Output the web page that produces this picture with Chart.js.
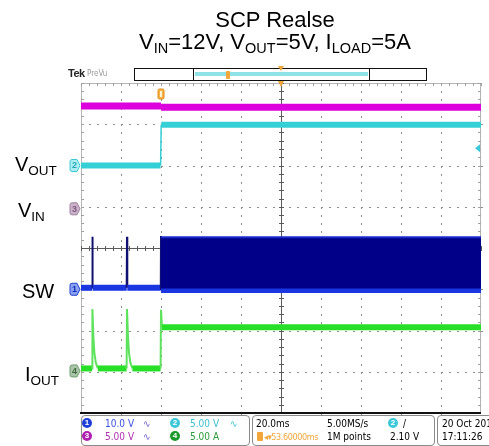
<!DOCTYPE html>
<html><head><meta charset="utf-8">
<script src="https://cdn.jsdelivr.net/npm/chart.js@4/dist/chart.umd.min.js"></script>
<style>
html,body{margin:0;padding:0;background:#fff;}
#wrap{position:relative;width:489px;height:446px;overflow:hidden;font-family:"Liberation Sans",Arial,sans-serif;color:#000;}
#c{position:absolute;left:0;top:0;}
.abs{position:absolute;white-space:nowrap;}
.title{font-size:22px;line-height:22px;left:0;width:550px;text-align:center;}
.title .s{font-size:14.5px;position:relative;top:4px;}
.lbl{font-size:20px;line-height:20px;}
.lbl .s{font-size:13.5px;position:relative;top:4px;}
.st{font-family:"Liberation Sans Narrow","DejaVu Sans Condensed",sans-serif;font-size:10px;line-height:10px;}
.box{position:absolute;box-sizing:border-box;border:1px solid #8a8a8a;border-radius:4px;top:415px;height:31px;}
.dot{position:absolute;width:10px;height:10px;border-radius:50%;color:#fff;font-family:"Liberation Sans",Arial,sans-serif;font-size:8px;line-height:10px;text-align:center;font-weight:bold;}
</style></head>
<body>
<div id="wrap">
<canvas id="c" width="489" height="446"></canvas>

<div class="abs title" style="top:9px;">SCP Realse</div>
<div class="abs title" style="top:31px;">V<span class="s">IN</span>=12V, V<span class="s">OUT</span>=5V, I<span class="s">LOAD</span>=5A</div>

<div class="abs lbl" style="left:15px;top:154px;">V<span class="s">OUT</span></div>
<div class="abs lbl" style="left:18px;top:200px;">V<span class="s">IN</span></div>
<div class="abs lbl" style="left:22px;top:281px;">SW</div>
<div class="abs lbl" style="left:25px;top:364px;">I<span class="s">OUT</span></div>

<!-- header -->
<div class="abs" style="left:68px;top:68px;font-size:11px;line-height:11px;font-weight:bold;color:#222;letter-spacing:-0.5px;">Tek</div>
<div class="abs st" style="left:87px;top:69px;font-size:8px;color:#999;">PreVu</div>
<div class="abs" style="left:134px;top:68px;width:293px;height:13px;box-sizing:border-box;border:1px solid #111;"></div>
<div class="abs" style="left:193px;top:68px;width:177px;height:13px;box-sizing:border-box;border:1px solid #111;"></div>
<div class="abs" style="left:195px;top:72px;width:173px;height:4px;background:#8fe3e6;"></div>
<div class="abs" style="left:226px;top:71px;width:4px;height:8px;background:#f2a63a;border-radius:1px;"></div>
<div class="abs" style="left:278px;top:66px;width:0;height:0;border-left:3px solid transparent;border-right:3px solid transparent;border-top:5px solid #f2a63a;"></div>

<!-- status bar -->
<div class="box" style="left:81px;width:169px;"></div>
<div class="box" style="left:252px;width:183px;"></div>
<div class="box" style="left:437px;width:70px;"></div>

<div class="dot" style="left:82px;top:418px;background:#1f3fd8;">1</div>
<div class="abs st" style="left:105px;top:419px;color:#3a4fe0;">10.0 V</div>
<div class="abs st" style="left:143px;top:419px;color:#6a5ad0;">∿</div>
<div class="dot" style="left:170px;top:418px;background:#3cc8d8;">2</div>
<div class="abs st" style="left:190px;top:419px;color:#3cc0d0;">5.00 V</div>
<div class="abs st" style="left:230px;top:419px;color:#3cc0d0;">∿</div>

<div class="dot" style="left:82px;top:431px;background:#b020b0;">3</div>
<div class="abs st" style="left:105px;top:432px;color:#b030b0;">5.00 V</div>
<div class="abs st" style="left:143px;top:432px;color:#6a5ad0;">∿</div>
<div class="dot" style="left:170px;top:431px;background:#1a9a2a;">4</div>
<div class="abs st" style="left:190px;top:432px;color:#2a9a3a;">5.00 A</div>

<div class="abs st" style="left:256px;top:419px;">20.0ms</div>
<div class="abs st" style="left:327px;top:419px;">5.00MS/s</div>
<div class="dot" style="left:388px;top:418px;background:#3cc8d8;">2</div>
<div class="abs st" style="left:403px;top:419px;">/</div>
<div class="abs" style="left:257px;top:432px;width:6px;height:9px;background:#f2a63a;border-radius:1px;"></div>
<div class="abs st" style="left:264px;top:432px;color:#f2a63a;font-size:9px;letter-spacing:-0.4px;">◂▾53.60000ms</div>
<div class="abs st" style="left:327px;top:432px;">1M points</div>
<div class="abs st" style="left:390px;top:432px;">2.10 V</div>

<div class="abs st" style="left:442px;top:419px;">20 Oct 2010</div>
<div class="abs st" style="left:442px;top:432px;">17:11:26</div>
</div>

<script>
// ---- data (time in ms relative to trigger) ----
const vinTimeMs  = [-100, -60, -60, 100];
const vinVolts   = [12.45, 12.45, 12.3, 12.3];

const voutTimeMs = [-100, -60.2, -59.9, 100];
const voutVolts  = [0, 0, 4.95, 4.95];

const swTimeMs   = [-100, -94.45, -94.3, -94.15, -77.15, -77.0, -76.85, -60.1, -60, -60, 100];
const swVolts    = [0.35, 0.35, 12.7, 0.35, 0.35, 12.7, 0.35, 0.35, 12.9, -0.2, -0.2];

const swBurstTimeMs = [-60, 100];
const swBurstHigh   = [12.6, 12.6];
const swBurstLow    = [0.2, 0.2];

const ioutTimeMs = [-100, -94.5, -94.3, -93.8, -93.3, -92.6, -91.6, -77.2, -77.0, -76.5, -76.0, -75.3, -74.3, -60.2, -60.0, -59.5, 100];
const ioutAmps   = [0.3, 0.3, 7.5, 4.2, 2.2, 1.0, 0.3, 0.3, 7.5, 4.2, 2.2, 1.0, 0.3, 0.3, 7.4, 5.3, 5.3];

// scope channel settings: units per division and ground position (div)
const chSW   = {perDiv: 10, zeroDiv: -1.0};
const chVOUT = {perDiv: 5,  zeroDiv: 2.0};
const chVIN  = {perDiv: 5,  zeroDiv: 0.95};
const chIOUT = {perDiv: 5,  zeroDiv: -2.98};
const triggerLevelV = 2.10;  // on VOUT channel
const cursorTimeMs = -60;

const toPts = (ts, vs, ch) => ts.map((t, i) => ({x: t, y: vs[i] / ch.perDiv + ch.zeroDiv}));

function seg(thick, thin, flatColor, edgeColor) {
  return {
    borderWidth: c => (c.p0.parsed.y === c.p1.parsed.y ? thick : thin),
    borderColor: c => (c.p0.parsed.y === c.p1.parsed.y ? flatColor : edgeColor)
  };
}

const scopePlugin = {
  id: 'scope',
  beforeDatasetsDraw(chart) {
    const {ctx, chartArea: a, scales: {x, y}} = chart;
    ctx.save();
    ctx.fillStyle = '#fff';
    ctx.fillRect(a.left, a.top, a.right - a.left, a.bottom - a.top);
    // dotted graticule
    ctx.fillStyle = '#8c8c8c';
    for (let d = -3; d <= 3; d++) {
      if (d === 0) continue;
      const py = Math.round(y.getPixelForValue(d));
      for (let s = 0; s <= 50; s++) ctx.fillRect(Math.round(x.getPixelForValue(-100 + s * 4)), py, 2, 1);
    }
    for (let t = -80; t <= 80; t += 20) {
      if (t === 0) continue;
      const px = Math.round(x.getPixelForValue(t));
      for (let s = 0; s <= 40; s++) ctx.fillRect(px, Math.round(y.getPixelForValue(-4 + s * 0.2)), 1, 2);
    }
    // border with ticks
    ctx.strokeStyle = '#b4b4b4';
    ctx.lineWidth = 1;
    ctx.strokeRect(a.left + 0.5, a.top + 0.5, a.right - a.left - 1, a.bottom - a.top - 1);
    ctx.fillStyle = '#a0a0a0';
    for (let s = 0; s <= 50; s++) {
      const px = Math.round(x.getPixelForValue(-100 + s * 4));
      ctx.fillRect(px, a.top, 1, 3);
    }
    for (let s = 0; s <= 40; s++) {
      const py = Math.round(y.getPixelForValue(-4 + s * 0.2));
      ctx.fillRect(a.left, py, 3, 1);
      ctx.fillRect(a.right - 3, py, 3, 1);
    }
    // centre crosshair with minor ticks
    const cx = Math.round(x.getPixelForValue(0)), cy = Math.round(y.getPixelForValue(0));
    ctx.fillStyle = '#5a5a5a';
    ctx.fillRect(cx, a.top, 1, a.bottom - a.top);
    ctx.fillRect(a.left, cy, a.right - a.left, 1);
    for (let s = 0; s <= 40; s++) ctx.fillRect(cx - 2, Math.round(y.getPixelForValue(-4 + s * 0.2)), 5, 1);
    for (let s = 0; s <= 50; s++) ctx.fillRect(Math.round(x.getPixelForValue(-100 + s * 4)), cy - 2, 1, 5);
    ctx.restore();
  },
  afterDatasetsDraw(chart) {
    const {ctx, chartArea: a, scales: {x, y}} = chart;
    ctx.save();
    // thick bottom line
    ctx.fillStyle = '#111';
    ctx.fillRect(a.left - 1, a.bottom - 1, a.right - a.left + 1, 2);
    // channel ground markers
    const marks = [
      {ch: chVOUT, n: '2', fill: '#aeeef2', line: '#3cc8d8', txt: '#2aa8b8'},
      {ch: chVIN,  n: '3', fill: '#c9b3c9', line: '#a080a0', txt: '#805880'},
      {ch: chSW,   n: '1', fill: '#8aa0f0', line: '#2040d0', txt: '#1030c0'},
      {ch: chIOUT, n: '4', fill: '#a9c4a9', line: '#70a070', txt: '#406a40'}
    ];
    ctx.font = 'bold 9px "Liberation Sans", Arial, sans-serif';
    ctx.textAlign = 'center';
    ctx.textBaseline = 'middle';
    for (const m of marks) {
      const py = y.getPixelForValue(m.ch.zeroDiv);
      const l = a.left - 11, r = a.left - 1;
      ctx.beginPath();
      ctx.moveTo(l + 2, py - 6);
      ctx.lineTo(r - 3, py - 6);
      ctx.lineTo(r, py);
      ctx.lineTo(r - 3, py + 6);
      ctx.lineTo(l + 2, py + 6);
      ctx.quadraticCurveTo(l, py + 6, l, py + 4);
      ctx.lineTo(l, py - 4);
      ctx.quadraticCurveTo(l, py - 6, l + 2, py - 6);
      ctx.closePath();
      ctx.fillStyle = m.fill; ctx.fill();
      ctx.strokeStyle = m.line; ctx.lineWidth = 1; ctx.stroke();
      ctx.fillStyle = m.txt;
      ctx.fillText(m.n, l + 4.5, py + 0.5);
    }
    // trigger level marker (right edge)
    const ty = y.getPixelForValue(triggerLevelV / chVOUT.perDiv + chVOUT.zeroDiv);
    ctx.fillStyle = '#3cc8d8';
    ctx.beginPath();
    ctx.moveTo(a.right - 6, ty);
    ctx.lineTo(a.right - 1, ty - 4);
    ctx.lineTo(a.right - 1, ty + 4);
    ctx.closePath();
    ctx.fill();
    // trigger position marker (top)
    const tx = x.getPixelForValue(0);
    ctx.fillStyle = '#f2a63a';
    ctx.beginPath();
    ctx.moveTo(tx - 3, a.top - 2);
    ctx.lineTo(tx + 3, a.top - 2);
    ctx.lineTo(tx, a.top + 4);
    ctx.closePath();
    ctx.fill();
    // cursor marker
    const ux = x.getPixelForValue(cursorTimeMs);
    ctx.fillStyle = '#f6b24a';
    ctx.strokeStyle = '#e08a10';
    ctx.beginPath();
    ctx.roundRect(ux - 3, a.top + 6, 6, 10, 1.5);
    ctx.fill(); ctx.stroke();
    ctx.fillStyle = '#fff3d8';
    ctx.fillRect(ux - 1, a.top + 8, 2, 6);
    ctx.restore();
  }
};

const chart = new Chart(document.getElementById('c'), {
  type: 'line',
  data: {
    datasets: [
      {label: 'VIN', data: toPts(vinTimeMs, vinVolts, chVIN),
       segment: seg(7, 1.5, '#dc00dc', '#dc00dc')},
      {label: 'VOUT', data: toPts(voutTimeMs, voutVolts, chVOUT),
       segment: seg(6, 1.5, '#35cfd6', '#35cfd6')},
      {label: 'IOUT', data: toPts(ioutTimeMs, ioutAmps, chIOUT),
       segment: seg(6, 2, '#27df27', '#5fe35f')},
      {label: 'SW burst', data: toPts(swBurstTimeMs, swBurstHigh, chSW),
       borderColor: '#1a2ac8', borderWidth: 2, fill: '+1', backgroundColor: '#000088'},
      {label: 'SW burst low', data: toPts(swBurstTimeMs, swBurstLow, chSW),
       borderColor: '#000088', borderWidth: 0, fill: false},
      {label: 'SW', data: toPts(swTimeMs, swVolts, chSW),
       segment: seg(6, 2, '#1a36e0', '#101070')}
    ]
  },
  options: {
    responsive: false,
    animation: false,
    devicePixelRatio: 1,
    layout: {padding: {left: 81, right: 8, top: 83, bottom: 33}},
    elements: {point: {radius: 0}, line: {tension: 0, borderCapStyle: 'butt'}},
    plugins: {legend: {display: false}, tooltip: {enabled: false}, title: {display: false}},
    scales: {
      x: {type: 'linear', min: -100, max: 100, display: false},
      y: {type: 'linear', min: -4, max: 4, display: false}
    }
  },
  plugins: [scopePlugin]
});
</script>
</body></html>
